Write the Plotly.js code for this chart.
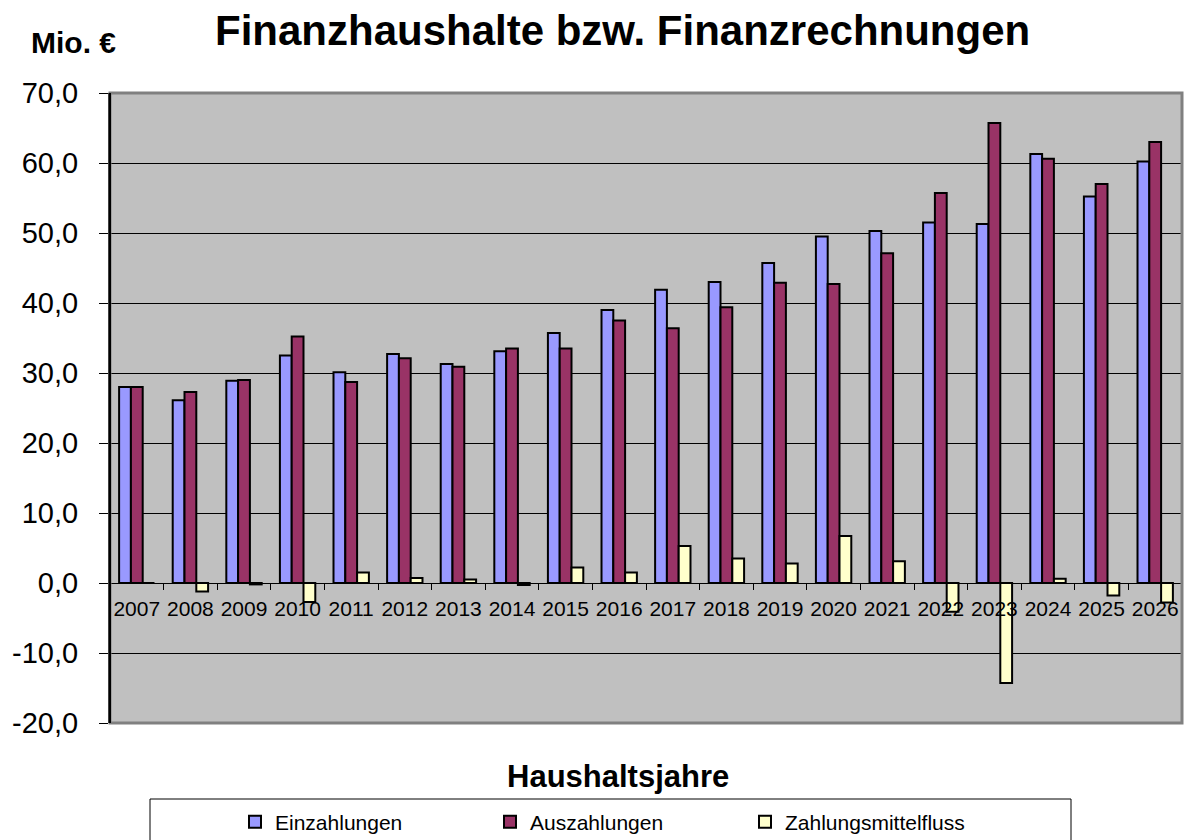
<!DOCTYPE html>
<html>
<head>
<meta charset="utf-8">
<script src="https://cdn.plot.ly/plotly-3.0.1.min.js"></script>
<style>html,body{margin:0;padding:0;background:#fff;}#chart{width:1195px;height:840px;}</style>
</head>
<body>
<div id="chart"></div>
<script>
const years = ["2007","2008","2009","2010","2011","2012","2013","2014","2015","2016","2017","2018","2019","2020","2021","2022","2023","2024","2025","2026"];
const einzahlungen = [28.0,26.1,28.9,32.5,30.1,32.7,31.3,33.1,35.7,39.0,41.9,43.0,45.7,49.5,50.3,51.5,51.3,61.3,55.2,60.2];
const auszahlungen = [28.0,27.3,29.0,35.2,28.7,32.1,30.9,33.5,33.5,37.5,36.4,39.4,42.9,42.7,47.1,55.7,65.7,60.6,57.0,63.0];
const zahlungsmittelfluss = [0.0,-1.2,-0.2,-2.7,1.5,0.7,0.5,-0.3,2.2,1.5,5.3,3.5,2.8,6.7,3.1,-4.1,-14.3,0.6,-1.8,-2.8];
const seriesNames = ["Einzahlungen","Auszahlungen","Zahlungsmittelfluss"];
const yTicks = [-20,-10,0,10,20,30,40,50,60,70];
const yTickText = yTicks.map(v => v.toFixed(1).replace(".", ","));

const font = "Arial, 'Liberation Sans', sans-serif";
const line = {color:"#000000", width:2};

const traces = [
  {type:"bar", name:seriesNames[0], x:years, y:einzahlungen, marker:{color:"#9999ff", line:line}},
  {type:"bar", name:seriesNames[1], x:years, y:auszahlungen, marker:{color:"#993366", line:line}},
  {type:"bar", name:seriesNames[2], x:years, y:zahlungsmittelfluss, marker:{color:"#ffffcc", line:line}}
];

const layout = {
  width:1195, height:840,
  margin:{l:110, r:13, t:93, b:117, autoexpand:false},
  paper_bgcolor:"#ffffff",
  plot_bgcolor:"#c0c0c0",
  font:{family:font, color:"#000000"},
  barmode:"group",
  bargap:0.34,
  bargroupgap:0,
  showlegend:true,
  title:{text:"<b>Finanzhaushalte bzw. Finanzrechnungen</b>", font:{size:42, family:font, color:"#000"}, x:0.521, xanchor:"center", y:0.964, yanchor:"middle"},
  xaxis:{
    type:"category",
    anchor:"free",
    position:(0-(-20))/90,
    showgrid:false,
    showline:true, linecolor:"#000", linewidth:1,
    ticks:"outside", ticklen:6, tickcolor:"#000", tickwidth:1,
    tickson:"boundaries",
    tickangle:0,
    ticklabelstandoff:7,
    tickfont:{size:21, family:font, color:"#000"},
    fixedrange:true
  },
  yaxis:{
    range:[-20,70],
    tickvals:yTicks,
    ticktext:yTickText,
    showgrid:true, gridcolor:"#000000", gridwidth:1,
    zeroline:false,
    showline:true, linecolor:"#000", linewidth:2,
    ticks:"outside", ticklen:9, tickcolor:"#000",
    ticklabelstandoff:15,
    tickfont:{size:29, family:font, color:"#000"},
    fixedrange:true
  },
  legend:{
    orientation:"h",
    xref:"container", yref:"container",
    x:235/1195, xanchor:"left",
    y:(840-822)/840, yanchor:"middle",
    bgcolor:"rgba(0,0,0,0)",
    borderwidth:0,
    font:{size:21, family:font, color:"#000"},
    entrywidth:210, entrywidthmode:"pixels",
    traceorder:"normal"
  },
  shapes:[
    {type:"rect", xref:"paper", yref:"paper", x0:0, x1:1, y0:0, y1:1, line:{color:"#808080", width:3}, layer:"above"},
    {type:"line", xref:"paper", yref:"paper", x0:0, x1:0, y0:0, y1:1, line:{color:"#000", width:2}, layer:"above"},
    {type:"rect", xref:"paper", yref:"paper", x0:(150-110)/1072, x1:(1071-110)/1072, y0:(723-850)/630, y1:(723-799)/630, line:{color:"#000", width:1}, fillcolor:"rgba(0,0,0,0)", layer:"below"}
  ],
  annotations:[
    {text:"<b>Mio. €</b>", xref:"paper", yref:"paper", x:(29-110)/1072, xanchor:"left", y:(723-42)/630, yanchor:"middle", showarrow:false, font:{size:30, family:font, color:"#000"}},
    {text:"<b>Haushaltsjahre</b>", xref:"paper", yref:"paper", x:(618-110)/1072, xanchor:"center", y:(723-776)/630, yanchor:"middle", showarrow:false, font:{size:31, family:font, color:"#000"}}
  ]
};

Plotly.newPlot("chart", traces, layout, {staticPlot:true, displayModeBar:false});
</script>
</body>
</html>
